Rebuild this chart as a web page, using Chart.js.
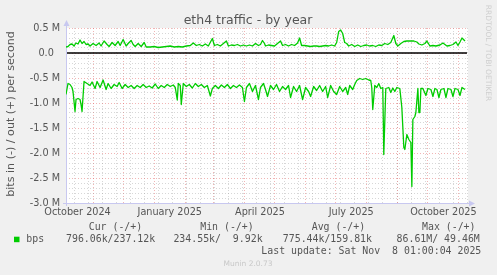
<!DOCTYPE html>
<html>
<head>
<meta charset="utf-8">
<title>eth4 traffic - by year</title>
<script src="https://cdn.jsdelivr.net/npm/chart.js@4"></script>
<style>
  html, body { margin: 0; padding: 0; background: #f0f0f0; }
  canvas { display: block; }
</style>
</head>
<body>
<canvas id="chart_eth4" width="497" height="275"></canvas>
<script>
// x = days since 2024-10-05 (left edge of the graph), y = Mbit/s
const outDays = [0, 2, 4, 6, 8, 10, 12, 14, 16, 18, 20, 22, 24, 27, 30, 33, 35, 38, 41, 43, 46, 49, 52, 54, 57, 60, 62, 65, 67, 69, 72, 75, 78, 80, 84, 88, 92, 96, 100, 104, 108, 112, 116, 120, 124, 127, 130, 133, 136, 139, 142, 146, 148, 151, 154, 157, 160, 162, 165, 168, 171, 174, 177, 180, 183, 186, 189, 192, 194, 196, 198, 199, 202, 205, 208, 211, 214, 216, 219, 222, 225, 228, 231, 233, 235, 238, 241, 244, 247, 250, 253, 256, 259, 262, 265, 268, 270, 272, 274, 276, 278, 280, 282, 285, 288, 291, 294, 297, 300, 303, 306, 309, 312, 315, 318, 321, 324, 327, 329, 331, 334, 337, 340, 343, 347, 350, 352, 355, 358, 360, 363, 366, 369, 373, 376, 380, 383, 386, 389, 391, 393, 395, 397, 398];
const outBits = [0.12, 0.13, 0.17, 0.18, 0.14, 0.20, 0.18, 0.26, 0.19, 0.23, 0.17, 0.18, 0.14, 0.19, 0.15, 0.20, 0.14, 0.24, 0.17, 0.13, 0.21, 0.15, 0.23, 0.15, 0.27, 0.14, 0.19, 0.25, 0.17, 0.13, 0.19, 0.13, 0.21, 0.12, 0.12, 0.13, 0.11, 0.12, 0.13, 0.14, 0.12, 0.13, 0.12, 0.14, 0.15, 0.20, 0.15, 0.17, 0.14, 0.18, 0.14, 0.29, 0.15, 0.17, 0.14, 0.19, 0.24, 0.14, 0.16, 0.15, 0.17, 0.14, 0.16, 0.14, 0.16, 0.14, 0.19, 0.15, 0.17, 0.25, 0.19, 0.14, 0.16, 0.15, 0.14, 0.19, 0.24, 0.15, 0.17, 0.14, 0.17, 0.15, 0.20, 0.30, 0.15, 0.15, 0.14, 0.13, 0.14, 0.14, 0.13, 0.14, 0.15, 0.14, 0.16, 0.14, 0.21, 0.43, 0.46, 0.39, 0.21, 0.19, 0.14, 0.17, 0.13, 0.16, 0.13, 0.15, 0.16, 0.14, 0.15, 0.13, 0.16, 0.15, 0.19, 0.17, 0.21, 0.35, 0.19, 0.14, 0.19, 0.23, 0.24, 0.24, 0.24, 0.22, 0.18, 0.16, 0.19, 0.24, 0.14, 0.15, 0.14, 0.16, 0.20, 0.14, 0.15, 0.17, 0.22, 0.15, 0.22, 0.30, 0.26, 0.24];

const inDays = [0, 2, 4, 6, 7, 9, 10, 12, 14, 15, 16, 18, 21, 24, 26, 29, 31, 34, 37, 40, 42, 45, 48, 51, 53, 56, 59, 62, 65, 68, 71, 74, 77, 80, 83, 86, 89, 92, 95, 98, 101, 104, 107, 109, 111, 112, 114, 115, 117, 120, 123, 126, 129, 132, 135, 138, 141, 144, 146, 149, 152, 155, 158, 161, 164, 167, 170, 173, 176, 178, 180, 183, 186, 189, 192, 194, 197, 199, 201, 204, 207, 210, 213, 216, 219, 222, 224, 227, 230, 233, 236, 239, 242, 244, 247, 250, 253, 256, 259, 261, 264, 267, 270, 273, 276, 279, 281, 283, 286, 288, 290, 293, 296, 299, 302, 304, 305, 306, 308, 310, 312, 314, 316, 317, 319, 322, 324, 326, 328, 330, 333, 335, 337, 338, 340, 342, 344, 345, 346, 348, 349, 351, 352, 353, 354, 356, 359, 361, 364, 366, 368, 370, 372, 374, 377, 379, 381, 384, 386, 388, 391, 393, 395, 398];
const inBits = [-0.83, -0.61, -0.63, -0.69, -0.77, -1.17, -0.93, -0.91, -0.93, -1.03, -1.17, -0.57, -0.61, -0.65, -0.58, -0.71, -0.57, -0.69, -0.54, -0.73, -0.61, -0.71, -0.63, -0.67, -0.59, -0.71, -0.63, -0.69, -0.65, -0.71, -0.65, -0.69, -0.63, -0.69, -0.66, -0.70, -0.62, -0.71, -0.65, -0.69, -0.63, -0.67, -0.64, -0.69, -0.94, -0.61, -0.65, -1.03, -0.61, -0.67, -0.63, -0.70, -0.61, -0.67, -0.63, -0.69, -0.65, -0.86, -0.71, -0.65, -0.71, -0.64, -0.69, -0.63, -0.71, -0.65, -0.69, -0.64, -0.69, -0.97, -0.69, -0.61, -0.77, -0.65, -0.93, -0.69, -0.61, -0.73, -0.87, -0.65, -0.73, -0.63, -0.77, -0.67, -0.73, -0.65, -0.89, -0.67, -0.77, -0.65, -0.93, -0.69, -0.77, -0.87, -0.67, -0.75, -0.65, -0.77, -0.67, -0.89, -0.65, -0.77, -0.83, -0.67, -0.77, -0.69, -0.83, -0.65, -0.73, -0.63, -0.55, -0.51, -0.53, -0.51, -0.54, -0.55, -0.69, -1.13, -0.65, -0.69, -0.61, -0.71, -0.69, -2.03, -0.71, -0.69, -0.79, -0.70, -0.77, -0.69, -0.71, -1.09, -1.89, -1.93, -1.63, -1.73, -1.79, -2.67, -1.33, -1.27, -1.19, -0.71, -1.19, -1.19, -0.71, -0.71, -0.85, -0.71, -0.73, -0.87, -0.71, -0.73, -0.89, -0.73, -0.71, -0.89, -0.71, -0.73, -0.87, -0.71, -0.73, -0.85, -0.69, -0.73];

const monthLabels = ["October 2024", "January 2025", "April 2025", "July 2025", "October 2025"];
const monthLabelDays = [11.5, 103.5, 193.5, 284.5, 376.5];
const monthStartDays = [27, 57, 88, 119, 147, 178, 208, 239, 269, 300, 331, 361, 392];

const legendHeads = ["Cur (-/+)", "Min (-/+)", "Avg (-/+)", "Max (-/+)"];
const legendValues = ["796.06k/237.12k", "234.55k/  9.92k", "775.44k/159.81k", " 86.61M/ 49.46M"];
const lastUpdate = "Last update: Sat Nov  8 01:00:04 2025";

const FONT = '"DejaVu Sans", sans-serif';
const MONO = '"DejaVu Sans Mono", monospace';
const GREEN = "#00cc00";
const TEXT = "#555555";
const MINOR = "rgba(150,150,150,0.38)";
const MAJOR = "rgba(225,90,90,0.45)";

const minorDays = [];
for (let d = 8.2; d <= 401; d += 14) minorDays.push(d);

function gridAxis(days, color) {
  return {
    type: "linear", position: "top", min: 0, max: 401,
    grid: { color: color, lineWidth: 1, drawTicks: false, borderDash: [1, 2] },
    border: { display: false, dash: [1, 2] },
    ticks: { display: false },
    afterBuildTicks: (s) => { s.ticks = days.map(v => ({ value: v })); },
    afterFit: (s) => { s.height = 0; s.paddingLeft = 0; s.paddingRight = 0; }
  };
}

const muninDecor = {
  id: "muninDecor",
  beforeDraw(chart) {
    const { ctx, chartArea: a } = chart;
    ctx.save();
    ctx.fillStyle = "#ffffff";
    ctx.fillRect(a.left, a.top, a.right - a.left, a.bottom - a.top);
    ctx.restore();
  },
  beforeDatasetsDraw(chart) {
    const { ctx, chartArea: a, scales } = chart;
    ctx.save();
    // zero line
    const y0 = Math.round(scales.y.getPixelForValue(0));
    ctx.strokeStyle = "#000000";
    ctx.lineWidth = 1.6;
    ctx.beginPath();
    ctx.moveTo(a.left, y0);
    ctx.lineTo(a.right - 1, y0);
    ctx.stroke();
    // axes with arrows
    const ax = "#c8c8f0";
    ctx.strokeStyle = ax;
    ctx.fillStyle = ax;
    ctx.lineWidth = 1;
    ctx.beginPath();
    ctx.moveTo(a.left + 0.5, a.bottom + 3);
    ctx.lineTo(a.left + 0.5, a.top - 3);
    ctx.moveTo(a.left - 3, a.bottom + 0.5);
    ctx.lineTo(a.right + 3, a.bottom + 0.5);
    ctx.stroke();
    ctx.beginPath();
    ctx.moveTo(a.left - 2.5, a.top - 2);
    ctx.lineTo(a.left + 0.5, a.top - 8);
    ctx.lineTo(a.left + 3.5, a.top - 2);
    ctx.fill();
    ctx.beginPath();
    ctx.moveTo(a.right + 1, a.bottom - 2.5);
    ctx.lineTo(a.right + 7, a.bottom + 0.5);
    ctx.lineTo(a.right + 1, a.bottom + 3.5);
    ctx.fill();
    ctx.restore();
  },
  afterDraw(chart) {
    const { ctx } = chart;
    ctx.save();
    // title
    ctx.fillStyle = TEXT;
    ctx.font = "12.5px " + FONT;
    ctx.textAlign = "center";
    ctx.textBaseline = "alphabetic";
    ctx.fillText("eth4 traffic - by year", 248, 24.3);
    // vertical unit label
    ctx.save();
    ctx.translate(11.5, 114);
    ctx.rotate(-Math.PI / 2);
    ctx.font = "11.1px " + FONT;
    ctx.textBaseline = "middle";
    ctx.fillText("bits in (-) / out (+) per second", 0, 0);
    ctx.restore();
    // watermark
    ctx.save();
    ctx.translate(487.5, 53);
    ctx.rotate(Math.PI / 2);
    ctx.font = "7.5px " + FONT;
    ctx.fillStyle = "#cfcfcf";
    ctx.textBaseline = "middle";
    ctx.fillText("RRDTOOL / TOBI OETIKER", 0, 0);
    ctx.restore();
    // legend
    ctx.font = "9.9px " + MONO;
    ctx.textAlign = "left";
    ctx.textBaseline = "middle";
    ctx.fillStyle = TEXT;
    const headX = [88.7, 200.2, 311.7, 422];
    const valX = [66, 173.4, 282.8, 390.6];
    legendHeads.forEach((t, i) => ctx.fillText(t, headX[i], 227.7));
    legendValues.forEach((t, i) => ctx.fillText(t, valX[i], 239.3));
    ctx.fillText("bps", 26.3, 239.3);
    ctx.fillText(lastUpdate, 261.3, 251);
    ctx.fillStyle = GREEN;
    ctx.fillRect(14, 236.7, 5.5, 5.5);
    // footer
    ctx.font = "7.5px " + FONT;
    ctx.fillStyle = "#c8c8c8";
    ctx.textAlign = "center";
    ctx.fillText("Munin 2.0.73", 248, 264);
    ctx.restore();
  }
};

new Chart(document.getElementById("chart_eth4"), {
  type: "line",
  data: {
    datasets: [
      {
        label: "out",
        data: outDays.map((d, i) => ({ x: d, y: outBits[i] })),
        borderColor: GREEN,
        borderWidth: 1.3,
        borderJoinStyle: "round",
        pointRadius: 0,
        fill: false,
        tension: 0,
      },
      {
        label: "in",
        data: inDays.map((d, i) => ({ x: d, y: inBits[i] })),
        borderColor: GREEN,
        borderWidth: 1.3,
        borderJoinStyle: "round",
        pointRadius: 0,
        fill: false,
        tension: 0,
      },
    ],
  },
  options: {
    responsive: false,
    animation: false,
    events: [],
    layout: { padding: { left: 0, right: 29, top: 28, bottom: 0 } },
    plugins: { legend: { display: false }, tooltip: { enabled: false }, title: { display: false } },
    scales: {
      xMinor: gridAxis(minorDays, MINOR),
      xMajor: gridAxis(monthStartDays, MAJOR),
      x: {
        type: "linear", position: "bottom", min: 0, max: 401,
        grid: { display: false, drawTicks: false },
        border: { display: false },
        ticks: {
          color: TEXT, font: { family: FONT, size: 9.7 }, padding: 4,
          maxRotation: 0, autoSkip: false,
          callback: (v, i) => monthLabels[i],
        },
        afterBuildTicks: (s) => { s.ticks = monthLabelDays.map(v => ({ value: v })); },
        afterFit: (s) => { s.height = 72; s.paddingLeft = 0; s.paddingRight = 0; },
      },
      y: {
        type: "linear", position: "left", min: -3, max: 0.5,
        grid: {
          drawTicks: false, lineWidth: 1, borderDash: [1, 2],
          color: (c) => (Math.round(c.tick.value * 10) % 5 === 0 ? MAJOR : MINOR),
        },
        border: { display: false, dash: [1, 2] },
        ticks: {
          color: TEXT, font: { family: FONT, size: 9.7 }, padding: 6,
          autoSkip: false,
          callback: (v) => {
            const k = Math.round(v * 10);
            if (k % 5 !== 0) return "";
            if (k === 0) return "0.0  ";
            return (k / 10).toFixed(1) + " M";
          },
        },
        afterBuildTicks: (s) => {
          const t = [];
          for (let k = -30; k <= 5; k++) t.push({ value: k / 10 });
          s.ticks = t;
        },
        afterFit: (s) => { s.width = 66; },
      },
    },
  },
  plugins: [muninDecor],
});
</script>
</body>
</html>
